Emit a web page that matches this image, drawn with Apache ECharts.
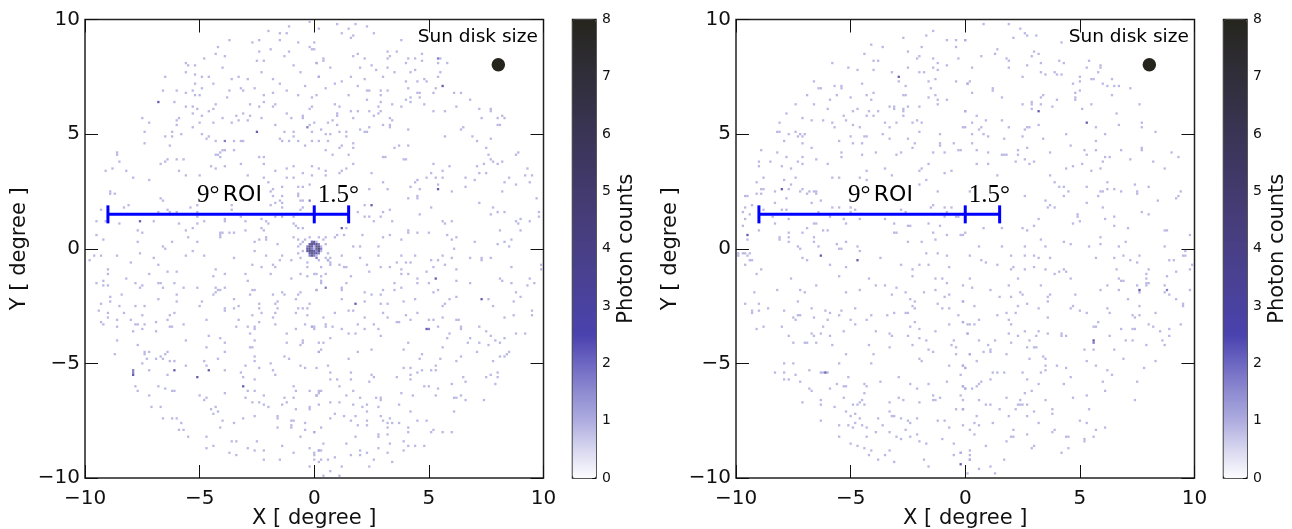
<!DOCTYPE html>
<html><head><meta charset="utf-8">
<script src="https://cdn.jsdelivr.net/npm/echarts@6/dist/echarts.min.js"></script>
<style>html,body{margin:0;padding:0;background:#fff}#c{width:1292px;height:529px}</style>
</head><body><div id="c"></div>
<script>
// flat x,y pairs in degrees
const leftOne = [
-1.1,9.7,-.2,9.9,-2,9.5,-1.5,9.4,-1.2,9.4,-3.7,9.1,-1.5,9.1,-2.7,9,-2.4,9.1,-.7,9,-4.2,8.8,-.2,8.8,-.1,8.7,-1.9,8.7,-2.4,8.6,-1.1,8.6,-4.3,8.5,-1.3,8.4,-3.9,8.4,-4.8,8.3,-2.5,8.2,-2.2,8.2,-5.6,8.1,-5.5,8,-5.2,8,-.9,8,-4,7.9,-5.6,7.7,-5.2,7.6,-2.3,7.7,-.6,7.7,.1,8.1,-6.5,7.5,-4.9,7.5,-4.6,7.5,-3.3,7.5,.2,7.5,-3.6,7.4,-2.9,7.4,-1.8,7.4,-5.2,7.2,-4.4,7.2,-1.5,7.2,-.4,7.1,-4.9,7,-3.2,7,-2.6,7,-6.6,6.9,-6,6.9,-5.3,6.9,-3.7,6.9,-3.1,6.9,-1.2,6.9,-5.6,6.8,-5.2,6.7,-5,6.7,-2.2,6.7,-1.8,6.8,-.7,6.7,-.1,6.6,-3.8,6.6,-6.1,6.4,-4.3,6.3,-2.8,6.3,-2.2,6.4,-5.6,6.2,-5.3,6.2,-5.1,6.1,-4.4,6.1,-2.4,6.2,-1.8,6.2,-1.7,6.3,-.1,6.2,-.2,6.1,-4.6,6,-5.3,5.9,-3.1,5.9,-1.2,5.9,-.5,5.8,-4.9,5.8,-3.4,5.8,-2.8,5.8,-7.5,5.7,-5.9,5.7,-4,5.7,-2.3,5.7,-1,5.7,-.5,5.7,-6,5.6,-3.3,5.6,-2.9,5.6,-7.2,5.5,-5,5.5,-4.4,5.5,-3.6,5.5,-1.7,5.4,-6,5.4,-5.3,5.3,-.2,5.4,-7.4,5.1,-6.2,5.1,-5.8,5,-4.9,5,-1.3,5.1,-.9,5.1,-.1,5.1,-6.5,4.9,-6.2,4.9,-4.6,4.9,-4.7,4.8,-1.5,4.8,-.9,4.9,-7.4,4.6,-4.3,4.7,-3.5,4.7,-3.2,4.7,-3.1,4.7,-1.4,4.7,-1.1,4.7,-.7,4.7,-.4,4.5,-.1,4.7,-6.3,4.5,-4,4.3,-3.5,4.3,-3.9,4.3,-8.6,4.2,-8.6,4.1,-4.3,4.1,-4.2,4.1,-4.1,4.2,-2.4,4,-2.2,4,-4.1,4,-6.4,3.9,-6,3.9,-5.7,3.9,-8.5,3.8,-6.5,3.8,-6.7,3.7,-3.2,3.7,-2.2,3.7,-4.5,3.6,-3.9,3.6,-.9,3.6,-.1,3.6,-8.8,3.5,-4.3,3.5,-9.1,3.4,-8.2,3.4,-5.9,3.4,-1.7,3.4,-.5,3.3,-1.2,3.5,-5.6,3.2,-5,3.2,-2.9,3.2,-.9,3.1,-1.2,3.1,-2.2,3.1,-.1,3.2,-7.9,3.1,-7.2,3,-2,2.9,-.2,2.8,-1.4,2.7,-1.8,2.6,-.5,2.7,-.7,2.7,-8.9,2.5,-8.9,2.4,-8.7,2.4,-1.9,2.5,-1.4,2.3,-.7,2.4,-.7,2.3,-1.8,2.3,-6.7,2.2,-6.6,2.1,-1.5,2.1,-.6,2.1,-.5,2.1,-1.7,2,-1.4,2,-8.1,1.9,-8.3,1.8,-5.1,1.9,-3.6,1.9,-3.6,1.7,-1.9,1.9,-1.4,1.8,-.5,1.8,-.6,1.7,-9.3,1.7,-6.8,1.6,-6.4,1.7,-6.3,1.6,-6,1.6,-5.1,1.6,-5.4,1.8,-9.5,1.2,-9.1,1.2,-7,1.2,-4.8,1.2,-3.9,1.3,-3.9,1.2,-2.3,1.3,-1.7,1.4,-1.4,1.4,-5.1,1.4,-3.2,1.4,-.9,1.4,-8.5,1.1,-5.9,1.1,-5.1,1.1,-3,1.2,-2.1,1.2,-2,1.1,-.9,1.1,-.8,1,-.5,.9,-5.3,.9,-2.3,.9,-2.2,.8,-.7,.9,-5.6,.8,-7.7,.8,-7.5,.7,-3,.8,-3.5,.7,-3.7,.7,-4.1,.7,-4.1,.6,-4.1,.5,-4,.7,-9.5,.6,-5.5,.5,-9.2,.4,-7.7,.3,-6.2,.3,-5.1,.3,-2.4,.4,-2.1,.5,-2.1,.4,-.9,.5,-.7,.4,-.5,.3,-.2,.5,.2,.5,-6.6,.1,-6.5,0,-2.6,.3,-1.6,.2,
.2,9.6,1,9.8,1.2,9.4,1.5,9.6,1.8,9.8,2.3,9.7,2.6,9.4,1.7,9.3,1.6,9.2,3.8,9.1,0,9,0,8.7,1.9,8.5,1.7,8.4,2.2,8.3,3.2,8.6,3.6,8.6,3.2,8.3,3.3,8.4,4.7,8.5,4,8.1,4.1,8.3,4.4,8.3,4.7,8.2,5.5,8.3,5.4,8.1,5.8,8.1,.4,8.3,.4,8.2,.1,8.1,.7,7.9,2,7.9,2.5,8,2.7,7.8,3.2,7.9,3.5,7.7,4.2,7.7,4.4,7.8,5.5,7.7,.2,7.5,1.6,7.5,3,7.5,5.4,7.5,1.2,7.3,.9,7.2,2.2,7.4,4,7.3,4.5,7.3,4.8,7.4,4.9,7.3,1.9,7.1,4.1,7,.5,7,2.3,6.9,2.4,6.9,2.9,6.9,3.2,6.9,4.5,6.8,4.6,6.8,5.3,7,5.2,6.8,6.1,6.8,6.4,6.8,1.5,6.7,2.9,6.7,.1,6.7,4.2,6.6,4.6,6.6,4,6.5,4.2,6.4,6.8,6.5,2.3,6.5,2.9,6.4,3.4,6.3,3.8,6.2,4.8,6.3,.9,6.3,2.8,6.2,6.2,6.2,1.1,6.2,7.2,6.1,7.7,6.1,7.7,6,1.6,6,1.9,6,2.4,6,2.9,6,5.2,6,5.7,6,1,5.9,1,5.8,2.8,5.9,2.6,5.8,1.7,5.7,7.3,5.7,8,5.7,8.2,5.8,8.3,5.7,.8,5.6,3.3,5.7,3.4,5.6,0,5.5,.3,5.2,.6,5.5,1,5.4,3.3,5.4,3,5.4,8,5.4,8.1,5.4,2,5.2,2.4,5.3,3.3,5.3,4.1,5.2,6.5,5.3,6.4,5.2,2.2,5.1,2.3,5.1,1.1,5.1,1.4,5.1,.5,5,.7,5,1.4,4.9,5.7,4.9,6.9,4.9,7.7,4.8,7.1,4.7,1.7,4.6,.6,4.7,.2,4.7,3.7,4.5,4.1,4.5,1.2,4.5,1.1,4.4,1.7,4.4,3.5,4.4,7.5,4.4,.5,4.3,8.9,4.2,8.8,4.1,.8,4.1,1.5,4.1,3,4,3.1,4,7.6,4.1,3.9,3.9,4,3.9,7.7,3.9,7.8,3.8,8.2,3.8,1.7,3.7,5.2,3.7,5.9,3.6,7.1,3.6,7.4,3.7,8,3.7,.2,3.5,.5,3.4,1.4,3.5,1.2,3.4,9.3,3.5,5.6,3.4,7.2,3.3,7.5,3.3,2.5,3.3,1.1,3.3,.5,3.2,5.1,3.3,9.5,3.2,9.2,3.2,4.9,3.1,5.6,3.1,5.3,3.1,6.6,3.1,8.5,3.1,4.5,3,4.4,2.9,7,3,3,2.9,8.3,2.9,9.4,2.9,5.4,2.8,4.2,2.7,6.6,2.7,8.8,2.8,2.4,2.6,3.2,2.6,4.6,2.6,6,2.5,8.2,2.5,4.1,2.2,4.5,2.3,4.5,2.2,9.7,2.2,7.2,2,2.2,1.9,5.1,1.8,3.3,1.7,3,1.6,4.6,1.5,1.9,1.6,7.8,1.8,8,1.6,8.3,1.6,7.7,1.5,9.8,1.6,2.2,1.4,2.4,1.4,2.9,1.4,3.4,1.2,2.6,1.2,5.6,1.2,6,1.2,5.7,1.1,8.8,1.2,9,1.3,9.4,1.2,9.8,1.4,8.9,1.1,9,.8,1.4,.9,1,.6,1.3,.6,4.1,.8,4.1,.7,4.5,.7,5,.7,8.1,.8,2.1,.6,3,.5,3.3,.6,5.8,.6,6.2,.5,6,.4,3.8,.4,.5,.5,.9,.5,8.6,.4,8,.2,8.3,.3,8.5,.1,7,.3,1.7,.1,2,.1,2.8,.1,6.1,0,
-9.6,-.3,-9.3,-.3,-8.6,-.3,-7.6,-.2,-7,-.4,-5.6,-.3,-5.3,-.1,-4.8,-.3,-3.5,-.4,-2.6,-.1,-2.1,-.3,-1.4,-.3,-1,-.5,-9.8,-.5,-8,-.6,-6.8,-.7,-4.3,-.9,-2.7,-.7,-2.3,-.8,-1.8,-.7,-1.7,-.8,-1.5,-.5,-.3,-.6,.2,-.5,-9,-.9,-6.4,-1,-6,-1,-.3,-.8,-9,-1.1,-7.2,-1.1,-4.4,-1.2,-3.9,-1.1,-3,-1.1,-1.9,-1.1,-.6,-1.1,-.3,-1.2,.1,-1.1,-8.2,-1.3,-9.2,-1.4,-1,-1.3,-2.9,-1.4,-9.5,-1.5,-9.2,-1.6,-9,-1.6,-7.8,-1.5,-7.5,-1.6,-6.8,-1.5,-6.7,-1.5,-6.1,-1.5,-7.6,-1.7,-6.6,-1.7,-5.7,-1.7,-5.1,-1.7,-4.3,-1.7,-4.2,-1.8,-4.1,-1.8,-3.9,-1.7,-4.3,-1.9,-2.7,-1.8,-2.6,-1.8,.1,-1.8,-1.4,-1.9,-1.3,-2,-.6,-1.9,-.7,-2,-8.4,-2,-6,-2,-4.4,-2,-2.8,-2,-1.8,-2,-8.9,-2.1,-8.9,-2.3,-6.8,-2.2,-3.5,-2.2,-.8,-2.2,-6,-2.3,-4.9,-2.3,-9.3,-2.4,-2.4,-2.4,-1.6,-2.3,-1.7,-2.4,-.2,-2.4,-8.5,-2.5,-7.8,-2.5,-7.4,-2.5,-5,-2.5,-3.3,-2.5,-3.5,-2.6,-2.4,-2.6,-1.6,-2.6,-.7,-2.6,-.5,-2.6,-.3,-2.6,-3.9,-2.6,-3.9,-2.7,-9.4,-2.7,-9,-2.8,-8.3,-2.8,-6.1,-2.8,-2.3,-2.8,-1.7,-2.8,-.8,-2.8,-7.5,-2.9,-6.3,-2.9,-2.7,-2.9,-9,-3,-1.8,-3,-.3,-2.9,-8.6,-3.1,-8,-3.1,-6.4,-3.1,-4.7,-3.1,-3.3,-3.1,-9.3,-3.2,-6.9,-3.2,-2.4,-3.2,-1.7,-3.3,-9.2,-3.3,-7.8,-3.3,-7.7,-3.3,-7.4,-3.3,-5.7,-3.3,-.4,-3.3,-8.6,-3.4,-6.3,-3.4,-6.2,-3.4,-3.4,-3.4,-2.9,-3.4,-2.6,-3.4,-2.6,-3.5,-.1,-3.4,0,-3.5,-7.5,-3.5,-.8,-3.5,-7.9,-3.6,-6.9,-3.6,-2.8,-3.7,-1.2,-3.7,-4.6,-3.8,-4.1,-3.9,-8.6,-4,-5.6,-4,-2.6,-4,-.5,-4,-.5,-4.1,-3.9,-4.1,-1.2,-4.1,-7.7,-4.2,-.6,-4.2,-4.7,-4.3,-2.8,-4.3,-2.7,-4.3,-3.9,-4.5,-7.4,-4.5,-7.4,-4.6,-7.2,-4.5,-6.4,-4.5,-8.7,-4.6,-6.5,-4.6,-2.6,-4.7,-1.3,-4.7,.2,-4.5,-7.3,-4.8,-6.9,-4.8,-6.7,-4.7,-6.6,-4.8,-4.2,-4.8,-1.1,-4.8,-6.3,-4.9,-6.1,-4.9,-4.8,-4.9,-2.6,-4.9,-7.5,-5,-5.6,-5.1,-4.7,-5.1,-3,-5.1,-1.9,-5,-.6,-5.1,-2.4,-5.2,-.4,-5.2,-7.2,-5.3,-3.9,-5.3,-1.8,-5.3,-3.2,-5.4,-6.4,-5.5,-1.7,-5.5,-3.1,-5.6,-2.6,-5.7,-7.8,-6,-6.8,-6,-.9,-6,-6.5,-6.1,-2.9,-6.2,-2.6,-6.2,-.8,-6.2,-6.2,-6.2,-6.1,-6.2,-7.7,-6.2,-.2,-6.2,.2,-6.3,-3.9,-6.3,-7.2,-6.4,-5,-6.4,-2.2,-6.4,.1,-6.4,-4.7,-6.5,-4.8,-6.6,-3,-6.5,-1.3,-6.5,-.9,-6.5,-2.7,-6.7,-2.4,-6.7,-2.2,-6.8,-1.4,-6.8,-1.2,-6.7,-.2,-6.9,-.2,-7,-7.1,-6.9,-6.7,-6.9,-4.3,-6.9,-4.5,-7,-2,-6.9,-.8,-7,-4.2,-7.1,-4.4,-7.2,-2.6,-7.3,-1.6,-7.3,-1.6,-7.4,-6.6,-7.4,-6.2,-7.4,-6,-7.4,-3.1,-7.4,-4,-7.5,-1,-7.5,-.9,-7.5,-5.8,-7.6,-3.5,-7.6,-.4,-7.6,-1,-7.7,-1,-7.8,-1.6,-7.8,-.4,-7.9,0,-8,-4.1,-7.8,-5.9,-7.9,-5.7,-7.9,-5.5,-8.2,-4.7,-8.2,-.6,-8.2,-3.6,-8.4,-3.4,-8.4,-2.5,-8.4,-4.7,-8.7,-4.4,-8.6,-1.4,-8.6,-2.9,-8.7,-2.6,-8.8,-2.2,-8.8,-.2,-8.7,.2,-8.8,-3.7,-8.9,-3.4,-9,-.9,-8.9,0,-9,-2.2,-9.2,-1.5,-9.2,0,-9.2,-.2,-9.5,.2,-9.3,
1.2,-.3,2,-.4,2.8,-.3,3.8,-.3,4.4,-.3,5.1,-.5,5.4,-.5,5.6,-.3,6,-.4,6.8,-.4,7.3,-.4,7.3,-.5,7.7,-.4,.7,-.4,.6,-.5,.7,-.6,2.9,-.8,3.8,-.9,4,-.6,3.6,-.6,4.2,-.6,2.3,-.7,3.3,-.8,5.2,-.8,5.7,-.7,6.2,-.9,8.6,-.8,9.9,-.7,9.9,-.9,.3,-.8,1.1,-.7,1.3,-.8,1.4,-.8,2.4,-1,4.9,-1,3.8,-1.1,4.1,-1.1,4.5,-1.3,6.2,-1.4,1.6,-1.2,.3,-1.2,.5,-1.1,8.1,-1.3,8.2,-1.4,8.6,-1.5,9.4,-1.3,9.3,-1.6,9.6,-1.5,.3,-1.4,.3,-1.5,0,-1.1,1.4,-1.5,3.5,-1.5,4.5,-1.5,5,-1.5,6.8,-1.5,.1,-1.8,1.2,-1.7,1.2,-1.8,3,-1.8,3.5,-1.8,3.8,-1.7,5.2,-1.9,5.4,-1.8,2.2,-1.9,2.5,-2,2.9,-2,8.8,-1.9,9,-2.1,6.2,-2.1,5.9,-2.2,1.2,-2.2,4.4,-2.2,2.2,-2.3,3.9,-2.3,7.6,-2.2,8.7,-2.3,2.9,-2.4,3.2,-2.4,5.7,-2.4,5.6,-2.5,7.8,-2.5,1.5,-2.7,1.7,-2.7,.9,-2.8,3,-2.8,4.5,-2.8,4,-2.9,9.5,-2.7,9.5,-2.9,.4,-3,2.2,-3,3.2,-3,5.6,-3,8.3,-3,8.7,-2.9,4.2,-3.1,5,-3.1,5.2,-3.1,6.2,-3.1,6.3,-3.1,3.6,-3.2,3.7,-3.2,1.9,-3.3,2.6,-3.3,.5,-3.3,.5,-3.4,5.4,-3.4,6.4,-3.4,6.4,-3.5,7.2,-3.4,.8,-3.4,-.1,-3.4,0,-3.4,1.2,-3.5,2.8,-3.5,7.5,-3.6,2.2,-3.5,1.5,-3.7,1.8,-3.7,2.9,-3.8,5.9,-3.7,7.7,-3.8,8.8,-3.7,9.2,-3.7,.7,-3.9,5.8,-3.9,6.8,-3.9,7.9,-4,8.3,-3.9,.2,-4.1,.4,-4.1,4.1,-4.1,6.7,-4.1,7.2,-4.1,7.6,-4.2,8.1,-4.1,5.6,-4.3,.3,-4.4,.2,-4.5,1.9,-4.5,2.5,-4.4,3.9,-4.4,7.1,-4.5,8.5,-4.5,8.4,-4.6,4.7,-4.6,6.4,-4.7,8.1,-4.7,8.3,-4.7,4.6,-4.8,5.5,-4.8,6.2,-4.9,1.5,-4.8,7.8,-4.9,.6,-5.1,.1,-5.2,3.9,-5.2,4.2,-5.2,5.3,-5.1,5.3,-5.3,5.1,-5.3,4.7,-5.3,.7,-5.4,1.6,-5.4,4.5,-5.4,4.2,-5.5,2.5,-5.5,2.6,-5.6,3.6,-5.6,4.2,-5.7,8,-5.4,7.7,-5.5,8,-5.6,7.5,-5.6,6.5,-5.6,.7,-5.7,1,-5.7,1.6,-5.7,2.4,-5.8,6.6,-5.8,6,-5.9,7.9,-5.9,1.1,-6,4.8,-6,5,-6,5.4,-6.1,1.7,-6.2,.2,-6.2,.3,-6.2,3.8,-6.3,.1,-6.4,1.4,-6.4,5.3,-6.4,4.3,-6.4,2,-6.5,2.7,-6.5,2.9,-6.5,2.9,-6.6,6.1,-6.5,6.2,-6.5,6.4,-6.4,6.6,-6.6,7.4,-6.6,.7,-6.7,1.1,-6.7,.2,-6.8,1.7,-6.8,2.3,-6.8,2.1,-6.9,2.8,-6.9,3.7,-6.8,2.3,-7.1,4.2,-7.1,6.1,-7.1,.9,-7.2,.7,-7.4,1.3,-7.3,1.8,-7.3,2.9,-7.3,1.6,-7.5,2.3,-7.5,3,-7.5,3.3,-7.4,3.4,-7.6,3.7,-7.6,4.5,-7.5,4.9,-7.5,3.2,-7.6,1.9,-7.7,2.3,-7.7,3.2,-7.8,4.1,-7.8,.3,-7.8,4.1,-8,5.2,-7.9,5.1,-8,5.6,-8,6,-8,3.2,-8.1,2.8,-8.1,2.8,-8.2,0,-8,1.8,-8.2,3.9,-8.4,.4,-8.5,1.4,-8.5,3.3,-8.5,4.1,-8.6,4.4,-8.6,4.8,-8.6,2.8,-8.7,.2,-8.8,.3,-8.8,2,-8.8,2,-9,1.6,-9,2.3,-8.9,3.2,-8.9,3.9,-8.8,0,-8.9,.3,-9.2,.6,-9.2,.9,-9.1,2.6,-9.2,3.4,-9.3,2.4,-9.5,1.2,-9.5,.4,-9.9,.7,-9.7,1.1,-9.9,
-.6,.2,-.7,.1,-.5,-.1,-.7,-.2,-.6,-.4,.5,.2,.6,-.2,.5,-.4,.6,-.5,.7,-.7,-.4,.4,.4,.4];
const leftTwo = [-3.9,4.7,-.3,5.3,5.4,8.3,-7.9,-5.3,-7.9,-5.4,5,-3.5,.5,-1.7,-.2,2.1,-.1,.3,.1,-.4];
const leftThree = [-6.8,6.4,-2.5,5.1,-7.6,1.2,5.6,7.1,5.4,2.6,2.5,1.9,1.2,.9,-6.1,-5.3,-4.6,-5.3,-7.9,-5.5,-5.1,-5.6,-3.1,-6,5.3,-1.3,1.8,-2.4,7.3,-2.2,4.9,-3.5];
// Sun-direction bins near the centre of the left map: x,y,count
const leftCore = [-.1,.3,2,0,.3,4,.1,.3,1,-.2,.2,3,-.1,.2,5,0,.2,3,.1,.2,5,.2,.2,2,-.3,.1,2,-.2,.1,5,-.1,.1,3,0,.1,1,.1,.1,5,.2,.1,4,.3,.1,1,-.3,0,3,-.2,0,5,-.1,0,2,0,0,1,.1,0,4,.2,0,6,.3,0,2,-.3,-.1,3,-.2,-.1,6,-.1,-.1,4,0,-.1,3,.1,-.1,2,.2,-.1,5,.3,-.1,1,-.2,-.2,3,-.1,-.2,5,0,-.2,3,.1,-.2,4,.2,-.2,2,-.2,-.3,2,-.1,-.3,4,0,-.3,2,.1,-.3,1];

const rightOne = [
-1.4,9.5,-1.7,9.3,-2.7,9.2,-.8,9.1,-.4,9.1,0,9.1,-4.1,8.9,-3.6,8.8,-1.9,8.8,-.4,8.8,-2.5,8.6,-4.4,8.5,-2,8.4,-2.1,8.3,-1.4,8.3,-.3,8.3,-4,8.2,-3.8,8.2,-1.2,8.1,-5.8,8.1,-.8,8,-5.1,7.9,-2.5,7.9,-1.4,7.9,-1.2,7.8,-4.7,7.8,-4,7.8,-3.2,7.7,-2,7.7,-1.8,7.7,-6.6,7.3,-2.9,7.3,-1.6,7.3,-1.3,7.4,-.4,7.3,.1,7.2,-4.5,7.2,-5.7,7.1,-5.4,7.1,-5.4,7,-2.6,7.1,-1.5,7,-6.4,7,-6.3,7,-4,6.8,-4.3,6.7,-5.6,6.7,-6.9,6.7,-2.7,6.7,-2.6,6.7,-1.3,6.7,-5,6.6,-5.9,6.5,-4.1,6.5,-1.6,6.6,-1.2,6.5,-.8,6.5,-1.2,6.3,-7.4,6.3,-6.6,6.3,-3.3,6.2,-3.1,6.2,-2.5,6.2,-2,6.2,-2.7,6.1,-2.7,6,-6,6.1,-4.7,6.1,-4.9,6,-4.2,6,-3.8,6,-3.1,6.1,0,6,-7.8,5.9,-5.3,5.8,-4.3,5.8,-4,5.8,-2.7,5.8,-7.1,5.7,-8.1,5.5,-6.7,5.6,-6.2,5.6,-5.2,5.6,-3.5,5.5,-5.8,5.5,-3,5.5,-2.3,5.5,-2.1,5.6,-1.9,5.5,-4.9,5.4,-5.7,5.3,-4.6,5.3,-3.3,5.3,-.1,5.3,-8.2,5.1,-8.1,5.1,-7.4,5.1,-2,5.1,-7.7,5,-7.2,5,-7,5,-3.6,5,-1.1,5,-7.3,4.9,-7.1,4.9,-5,4.9,-4.4,4.9,-4.3,4.9,-2.5,4.8,-3.3,4.8,-1.1,4.6,-1.1,4.5,-7.9,4.7,-5.5,4.7,-2.2,4.6,-4.9,4.6,-4.5,4.6,-7.1,4.6,-.5,4.6,-6.7,4.4,-2.3,4.4,-8.9,4.3,-.3,4.3,-.2,4.3,-8.2,4.2,-5.4,4.2,-3.9,4.2,-2.8,4.2,-1.4,4.2,-.9,4.2,-3,4.1,-4.5,4.1,-7.8,4,-7.1,4,-5.4,4,-6.5,3.9,-9,3.8,-8.5,3.8,-7.3,3.8,-7.1,3.7,-9,3.6,-6,3.7,-1.6,3.7,-8,3.6,-7.6,3.5,-3.5,3.5,-1.9,3.5,-2,3.4,-4.3,3.4,-.6,3.4,-.9,3.3,-3.2,3.2,-8.8,3.1,-7.4,3.1,-5.8,3.1,-5.5,3.1,-4.6,3.1,-1.7,3,-7.9,3,-9.1,2.9,-7.6,2.8,-2,2.8,-4.3,3,-8.9,2.6,-8.8,2.6,-7.7,2.6,-7.1,2.6,-7.2,2.5,-8.3,2.5,-9.1,2.4,-8.9,2.4,-6.8,2.5,-6.9,2.4,-6.6,2.5,-6.5,2.5,-6.5,2.4,-1.2,2.5,.2,2.5,-9.6,2.3,-9.5,2.3,-7.8,2.2,-6.3,2.1,-6.7,2,-8.3,2,-9.3,1.9,-9.6,1.8,-8.8,1.7,-8,1.7,-7.8,1.7,-5.8,1.8,-5.5,1.8,-5,1.8,-2.8,1.7,-1.4,1.9,-1.5,1.8,-.9,1.8,-.6,1.8,-9.7,1.6,-9.4,1.5,-6.4,1.6,-4.8,1.7,-5,1.6,-2.6,1.6,-.8,1.6,-.4,1.4,-.3,1.4,-.9,1.4,-5.9,1.4,-9.6,1.3,-8.4,1.4,-7.7,1.3,-5.3,1.3,-4.6,1.3,-3.5,1.3,-8.3,1.1,-6.6,1.1,-6.5,1.1,-3.1,1.1,-1.6,1.1,-2.5,1,-2.4,1,-5.2,1.1,-9.7,1,-1.1,1,-6.9,.9,-9,.8,-6.2,.8,-6,.8,-7.1,.7,-3.1,.7,-3,.7,-1.4,.7,-7.7,.7,-8.1,.5,-8.1,.4,-7.7,.5,-9.5,.4,-.8,.6,0,.7,-.1,.6,-6.6,.5,-7.7,.3,-6.6,.3,-5.2,.3,-2.5,.3,-1.9,.3,-1.3,.4,-5.6,.2,-6.4,.1,-7.3,.1,-7.2,0,-5.5,0,-5.4,0,-4.7,.1,
.8,9.8,1.9,9.8,2.4,9.6,2.6,9.4,2.7,9.3,3.1,9.3,2.1,9.2,0,9.1,4.2,9,1.4,8.7,1.3,8.5,.7,8.4,3,8.6,2.9,8.4,3.2,8.5,1.9,8.2,1.8,8.3,4.1,8.2,4.3,8.1,3.3,8.1,5.4,8.2,2.7,8,1.9,7.9,.3,7.9,5.3,7.9,5.9,8,5.9,7.9,5.8,7.7,3.3,7.7,3.5,7.6,3.9,7.7,4,7.6,4.2,7.6,2.5,7.5,5,7.5,5.5,7.4,5.6,7.4,6.4,7.4,4.7,7.2,.2,7.3,.1,7.2,5,7.3,6,7.2,6.2,7.1,6.5,7.1,6.7,7.1,1.2,7,1.2,6.9,7.2,7,5,6.9,.3,6.8,4.8,6.8,6.4,6.7,1.6,6.6,3.4,6.7,3.3,6.6,4.8,6.6,4.8,6.5,4,6.5,2.5,6.3,2.9,6.4,2.9,6.3,2.9,6.1,3.3,6.3,3.8,6.2,5.5,6.3,7.6,6.3,5.1,6.1,0,6,.5,5.8,6.6,5.9,1.6,5.6,.3,5.5,.9,5.6,2.6,5.2,2.7,5.3,2.8,5.3,3.2,5.4,0,5.3,.7,5.3,.6,5.2,1.9,5.3,5.7,5.3,6.7,5.4,7.7,5.5,7.7,5.3,.3,5,.8,5,2.5,4.9,3.4,4.8,1.7,4.8,4.4,5,6.1,5,8.3,5.1,1,4.9,.3,4.6,5.7,4.7,4.6,4.5,.5,4.3,2.7,4.4,5.2,4.3,5.7,4.3,1,4.2,2.3,4.3,2.3,4.1,3.7,4.2,1.6,4.1,1.7,4.1,1.8,4.1,5.3,4.1,6.1,4,6.3,4,6.8,4.3,7.7,4.4,7.7,4.3,9,4.2,9.3,4,2.2,3.8,2.6,3.9,2.8,3.7,.5,3.7,1,3.7,3,3.8,6,3.8,7.2,3.9,8.2,3.8,4.4,3.5,4.7,3.6,5.1,3.7,5.5,3.4,5.9,3.5,8.7,3.5,1.4,3.2,3.7,3.2,3.9,2.9,4.1,2.7,4.3,2.7,5.3,2.7,6.2,2.9,7.4,2.8,8,2.7,4.5,2.5,4.3,2.3,5.9,2.5,6,2.5,5.8,2.3,6.2,2.6,6.5,2.6,6.8,2.5,7.5,2.5,7.5,2.4,9.4,2.5,9.3,2.3,9.2,2.2,2.6,2.3,3.5,2.1,5.3,2,8.4,2.1,3.7,1.9,3.6,1.8,3.9,1.8,6,1.8,7.7,1.6,8,1.5,4.9,1.5,4.9,1.4,5,1.2,4.7,1.1,3.2,1.3,3,1,6.1,1.3,6.5,1.4,6.5,1,7.1,.9,.8,.9,1.6,.9,2.5,.9,2.7,.8,8.7,.8,8.8,.8,-.2,.6,9.8,.6,3.3,.4,4.3,.3,5.9,.5,5.9,.2,.6,.1,1.6,.1,2.6,.1,3.5,.1,4.6,.2,5.4,.1,6.7,.1,7,.3,8.7,.1,
-9.9,-.2,-9.9,-.3,-9.7,-.2,-9.6,-.2,-9.5,-.3,-9.4,-.2,-9.4,-.5,-9.3,-.5,-9.6,-.7,-8.9,-.9,-9.1,-1.1,-7.1,-.4,-6.9,-.5,-4.6,-.1,-3.7,-.4,-1.7,-.2,-1.2,-.2,-.8,-.3,-5.9,-.7,-5.2,-.8,-2.8,-.7,-2.3,-.9,-2,-.7,-1.6,-.7,-.7,-.8,-2.3,-1.2,-5.5,-1.2,-7.6,-1.3,-4.2,-1.3,-1.3,-1.3,-1,-1.3,-.8,-1.5,-3.9,-1.6,-3.5,-1.6,-6.5,-1.6,-3,-1.7,-8.2,-1.8,-7.2,-1.8,-7,-1.9,-9.2,-1.9,-5.2,-1.9,-4.6,-1.8,-3.2,-2,-2.6,-1.9,-1.8,-1.9,-1.3,-1.8,-.7,-2,-2.4,-2.2,-.9,-2.1,-7.3,-2.3,-2.2,-2.3,-9.6,-2.4,-9,-2.4,-1.2,-2.4,-2.3,-2.5,-.1,-2.3,-8.6,-2.6,-7.9,-2.7,-6.7,-2.6,-6.1,-2.7,-5.4,-2.7,-4.8,-2.6,-2.2,-2.6,-1,-2.6,-.7,-2.6,-9.3,-2.7,-9.3,-2.8,-9,-2.7,-5.9,-2.8,-3.1,-2.8,-2.6,-2.8,-2.5,-2.8,-4.1,-2.9,-3.4,-2.9,-5.5,-2.9,-7.3,-2.9,-7.2,-2.9,-.3,-2.9,-7.5,-3,-7.4,-3.1,-6.6,-3,-6,-3.1,-5,-3.1,-4.3,-3.1,-2.2,-3.2,-.1,-3.2,-4.8,-3.3,-.7,-3.3,-9.1,-3.5,-8.8,-3.4,-8,-3.4,-6.2,-3.4,-2.4,-3.4,-2,-3.5,.1,-3.3,-5.3,-3.6,-3.9,-3.6,-1.3,-3.6,-6.7,-3.7,-6.6,-3.8,-6.3,-3.7,-5.9,-3.8,-3.3,-3.7,-3.2,-3.8,-7.7,-3.8,-2.5,-3.8,.1,-3.7,-2,-3.9,-1.7,-4,-.5,-4,-7.5,-4.1,-7,-4.1,-6.9,-4.1,-6.5,-4.1,-4.2,-4.2,-2.3,-4.2,-.6,-4.2,-5.8,-4.2,-3.3,-4.3,-.4,-4.3,-1.6,-4.4,-1.4,-4.5,-5.2,-4.6,-4,-4.6,-.4,-4.6,.2,-4.6,-2,-4.8,-1.9,-4.9,-4.1,-5,-7.9,-5,-7.5,-5,-5.5,-5,-.7,-5.1,-.1,-5.1,0,-5.2,-6.8,-5.3,-8.3,-5.4,-7.9,-5.4,-6.3,-5.4,-6.2,-5.4,-6,-5.4,-7.4,-5.5,-.2,-5.5,-5.1,-5.6,-2.9,-5.6,-7.9,-5.7,-7.7,-5.7,-7.2,-5.8,-3.7,-5.8,-.8,-5.8,-5.6,-5.9,-2.4,-5.9,-1.6,-5.9,-4.4,-5.9,-5.3,-6,-5.2,-6,-6.8,-6.1,-6.7,-6.2,-5.9,-6.1,-4.3,-6,-2.1,-6.1,-.1,-6,0,-6.1,-4.4,-6.3,-1.4,-6.4,-.2,-6.4,-5.3,-6.5,-2.9,-6.5,-2.7,-6.6,-1.1,-6.5,-1.4,-6.6,-1.3,-6.6,-6.3,-6.6,-4.5,-6.6,-4.6,-6.7,-3.3,-6.7,-2,-6.7,-7.1,-6.7,-6.3,-6.8,-4.9,-6.8,-4.7,-6.8,-4.4,-6.8,-5.7,-6.9,-.1,-6.6,-.4,-7,-.1,-7,-5.2,-7.1,-3.3,-7.1,-5,-7.3,-4.8,-7.2,-3.2,-7.3,-3.1,-7.3,-4.6,-7.4,-3.8,-7.4,-2.8,-7.4,-2.1,-7.4,-6.3,-7.5,-2.5,-7.5,-2.4,-7.6,-1.2,-7.5,-.9,-7.5,-4.8,-7.6,-5.5,-7.7,-5.1,-7.7,-4.9,-7.8,-4.5,-7.7,-4.3,-7.8,-3.6,-7.7,-2.6,-7.9,-.7,-7.8,-3.9,-8,-3.3,-8,-2.1,-8.1,-5.5,-8.2,-4.3,-8.2,-3,-8.2,-2.8,-8.3,-2.4,-8.2,-1,-8.3,-2,-8.4,-1.7,-8.5,-5,-8.5,-.5,-8.5,-4.7,-8.6,-4.4,-8.7,-4.1,-8.8,-3.3,-8.8,-.2,-8.9,-4.2,-9,-3.5,-9,-.5,-9,.2,-8.8,-3.8,-9.2,-3.1,-9.3,-1.8,-9.2,.2,-9.2,-1.6,-9.5,.1,-9.8,
.2,-.3,2,-.3,2.6,-.3,3,-.3,3.2,-.4,3.7,-.4,5.7,-.4,6.5,-.4,6.9,-.3,7.6,-.3,7.2,-.5,7.5,-.6,.7,-.5,.9,-.6,9.6,-.1,9.5,-.3,9.6,-.3,8.9,-.5,9.1,-.5,1.4,-.7,2.1,-.8,2,-.9,2.6,-.9,3,-.8,3.5,-.9,4.3,-.9,4.4,-1,4.1,-1,3.9,-1.1,9.9,-.7,9.8,-.9,6.6,-.9,8,-.9,7.9,-1.1,9.2,-1,8.8,-1.2,.2,-1.3,2.3,-1.3,4.6,-1.3,6.7,-1.3,6.8,-1.4,6.9,-1.4,7.9,-1.3,7.9,-1.5,8,-1.5,8.7,-1.6,7.5,-1.6,7.9,-1.6,-.1,-1.6,1.9,-1.6,3.3,-1.6,.3,-1.7,6.2,-1.6,5.9,-1.8,6.7,-1.8,7.6,-1.9,8.7,-1.9,8.9,-2,9.8,-1.8,1.1,-1.8,2.4,-1.9,2.5,-2,3.7,-2,3.6,-2.1,1.5,-2.1,2,-2.1,4.8,-2,9.2,-2.2,3.6,-2.3,7.1,-2.2,-.1,-2.3,2.7,-2.4,.4,-2.5,2.3,-2.5,4.7,-2.5,4.6,-2.6,7.6,-2.5,9.5,-2.4,9.5,-2.5,5,-2.7,5.3,-2.8,6.2,-2.6,6.3,-2.8,3.2,-2.6,1.8,-2.8,2.2,-2.8,1.4,-2.9,7.3,-2.9,7.4,-3,7.6,-2.9,8.3,-2.8,3.6,-3,1.9,-3.1,2,-3.3,.6,-3.1,.2,-3.3,.4,-3.3,-.1,-3.2,5.8,-3.2,5.6,-3.4,5.7,-3.4,8,-3.3,8.2,-3.4,9.4,-3.3,8.9,-3.5,8.5,-3.6,6.8,-3.5,7.3,-3.5,7.4,-3.5,2.6,-3.6,3.2,-3.6,1.9,-3.7,2.3,-3.8,3.1,-3.8,4.2,-3.7,4.2,-3.8,4.4,-3.8,3.6,-3.7,.1,-3.7,6.3,-3.8,.6,-4,1.3,-4,2.8,-4,7,-4,7.3,-4,8.6,-4,8.9,-3.8,2,-4.1,1,-4.2,2.7,-4.3,3.1,-4.3,5.6,-4.4,5.2,-4.4,6.5,-4.4,7.9,-4.2,8.7,-4.2,1.1,-4.4,1.1,-4.5,.8,-4.5,.2,-4.6,1.8,-4.6,3,-4.3,3.4,-4.7,3.5,-4.8,2.8,-4.8,.5,-4.9,5.3,-4.9,6.9,-4.8,8.3,-4.9,3.5,-5.1,-.1,-5.1,0,-5.2,4,-5.1,4.4,-5.2,3.5,-5.3,5.7,-5.1,6.2,-5.3,7.8,-5.2,1.2,-5.4,1.4,-5.4,1.7,-5.4,2.5,-5.4,3.3,-5.4,6.4,-5.5,1.1,-5.7,2.7,-5.7,4.6,-5.6,6,-5.8,7.5,-5.8,.7,-5.8,.6,-5.9,.5,-6,.3,-6.1,3.2,-5.9,4.3,-5.9,-.1,-6,0,-6.1,2.9,-6.2,2.6,-6.3,6.1,-6.2,5.3,-6.4,1.8,-6.5,4.7,-6.5,.6,-6.6,2.4,-6.6,3.5,-6.6,7.4,-6.6,.9,-6.8,1.1,-6.8,2.3,-6.8,2.4,-6.8,2.5,-6.8,2.7,-6.8,2.2,-7,1.5,-7,3,-7.1,3.8,-7,3.8,-7.2,5.4,-7,-.1,-7,.5,-7.3,1.9,-7.3,2.7,-7.3,5,-7.5,5.3,-7.6,3.2,-7.6,1.2,-7.6,.4,-7.6,.6,-7.7,-.1,-7.7,6.1,-7.8,5.7,-7.9,.2,-7.9,2.1,-7.9,3.9,-7.9,3.8,-8,.4,-8.1,2.7,-8.1,2,-8.2,2.1,-8.2,1.8,-8.4,4.4,-8.2,4.5,-8.2,5.6,-8.2,5.2,-8.3,5.2,-8.4,.9,-8.6,3,-8.6,2.9,-8.7,4.5,-8.7,4.2,-8.9,-.2,-8.9,.2,-9,.2,-9.2,1.7,-9.2,.6,-9.6,1.1,-9.5,1.3,-9.8];
const rightTwo = [8.8,-1.8,5.6,-4.1];
const rightThree = [-2.9,7.5,-8,2.6,-9.5,.6,3.2,6,5.3,5.5,-6.3,-.3,-4.7,-.5,-6.1,-5.4,-.2,-9.4,7.6,-1.8,5.6,-4];

const countColors = ['#fcfcfe','#d8d7ef','#aeacdf','#8e8bd1','#6d67c2','#4a42ae','#4a42a0','#4a4192','#483f86','#463d7a','#433a6e','#3e3761','#3a3555','#353147','#302e3a','#2b2a2c','#25251d'];
const colorbarTicks = [0,1,2,3,4,5,6,7,8];
const sunDisk = [[8.03,8.03]];
const roiSpan = [[-9,1.5],[1.5,1.5]];
const roiCaps = [[-9,1.5],[0,1.5],[1.5,1.5]];

const SANS = 'DejaVu Sans', SERIF = 'Liberation Serif', INK = '#111';
function triples(one, two, three, core) {
  const out = [];
  [[one,1],[two,2],[three,3]].forEach(([a,c]) => { for (let i=0;i<a.length;i+=2) out.push([a[i],a[i+1],c]); });
  for (let i=0;i<core.length;i+=3) out.push([core[i],core[i+1],core[i+2]]);
  return out;
}
const fmt = v => String(v).replace('-', '\u2212');
const frame = {show:true, borderColor:'#222', borderWidth:1.5, backgroundColor:'transparent', outerBoundsMode:'none', containLabel:false};
const grids = [
  {left:85, top:19.5, width:458.5, height:458.5, ...frame},
  {left:572.5, top:19.5, width:23.5, height:458.5, ...frame},
  {left:736, top:19.5, width:458.5, height:458.5, ...frame},
  {left:1223.5, top:19.5, width:23.5, height:458.5, ...frame}
];
const mainAxis = (idx, pos, labelled, name, gap) => ({
  type:'value', gridIndex:idx, position:pos, min:-10, max:10, interval:5, splitLine:{show:false},
  axisLine:{show:false, onZero:false}, axisTick:{show:true, inside:true, length:13, lineStyle:{color:INK,width:1}},
  axisLabel:{show:labelled, fontFamily:SANS, fontSize:20, color:INK, margin:pos==='left'?5:11, formatter:fmt},
  name:name, nameLocation:'middle', nameGap:gap, nameMoveOverlap:false, nameTextStyle:{fontFamily:SANS, fontSize:21, color:INK}
});
const xAxes = [], yAxes = [];
[0,2].forEach(g => {
  xAxes.push(mainAxis(g,'bottom',true,'X [ degree ]',30), mainAxis(g,'top',false,'',0));
  yAxes.push(mainAxis(g,'left',true,'Y [ degree ]',55), mainAxis(g,'right',false,'',0));
  xAxes.push({type:'value',gridIndex:g+1,show:false,min:0,max:1});
  yAxes.push({type:'value',gridIndex:g+1,position:'right',min:colorbarTicks[0],max:colorbarTicks[8],interval:1,splitLine:{show:false},
    axisLine:{show:false,onZero:false},axisTick:{show:true,inside:true,length:4,lineStyle:{color:INK,width:1}},
    axisLabel:{fontFamily:SANS,fontSize:14,color:INK,margin:6},
    name:'Photon counts',nameLocation:'middle',nameRotate:90,nameGap:20,nameTextStyle:{fontFamily:SANS,fontSize:21,color:INK}});
});
function panelSeries(xi, yi, data) {
  const base = {xAxisIndex:xi, yAxisIndex:yi, silent:true, animation:false};
  const note = (x,y,align,rich,text) => ({value:[x,y], label:{show:true, position:'inside', align, verticalAlign:'middle', formatter:text, rich}});
  const rich = {m:{fontFamily:SERIF,fontSize:25,color:'#000'}, t:{fontFamily:SANS,fontSize:22,color:'#000'}, s:{fontFamily:SANS,fontSize:18.5,color:'#000'}};
  return [
    {...base, type:'scatter', symbol:'rect', symbolSize:2.3, data, itemStyle:{opacity:0.85}},
    {...base, type:'scatter', symbol:'circle', symbolSize:13.5, data:sunDisk, itemStyle:{color:'#25251d',opacity:1}},
    {...base, type:'line', data:roiSpan, showSymbol:false, lineStyle:{color:'#0000ff',width:3,opacity:1}, itemStyle:{color:'#0000ff',opacity:1}},
    {...base, type:'scatter', symbol:'rect', symbolSize:[3,18], data:roiCaps, itemStyle:{color:'#0000ff',opacity:1}},
    {...base, type:'scatter', symbolSize:0, itemStyle:{color:'transparent',opacity:1}, data:[
      note(-3.7,2.33,'center',rich,'{m|9°} {t|ROI}'),
      note(1.05,2.33,'center',rich,'{m|1.5°}'),
      note(9.75,9.24,'right',rich,'{s|Sun disk size}')
    ]}
  ];
}
const leftData = triples(leftOne,leftTwo,leftThree,leftCore);
const rightData = triples(rightOne,rightTwo,rightThree,[]);
const series = [...panelSeries(0,0,leftData), ...panelSeries(3,3,rightData)];
const barMap = (left, sIdx) => ({
  type:'continuous', min:0, max:8, seriesIndex:sIdx, dimension:2, left, top:19.5, itemWidth:23.5, itemHeight:458.5,
  padding:0, text:[null,null], calculable:false, showLabel:false, hoverLink:false, inRange:{color:countColors}, borderWidth:0
});
const chart = echarts.init(document.getElementById('c'), null, {renderer:'canvas'});
chart.setOption({
  animation:false, backgroundColor:'#fff', grid:grids, xAxis:xAxes, yAxis:yAxes, series,
  visualMap:[barMap(572.5,0), barMap(1223.5,5)]
});
</script></body></html>
